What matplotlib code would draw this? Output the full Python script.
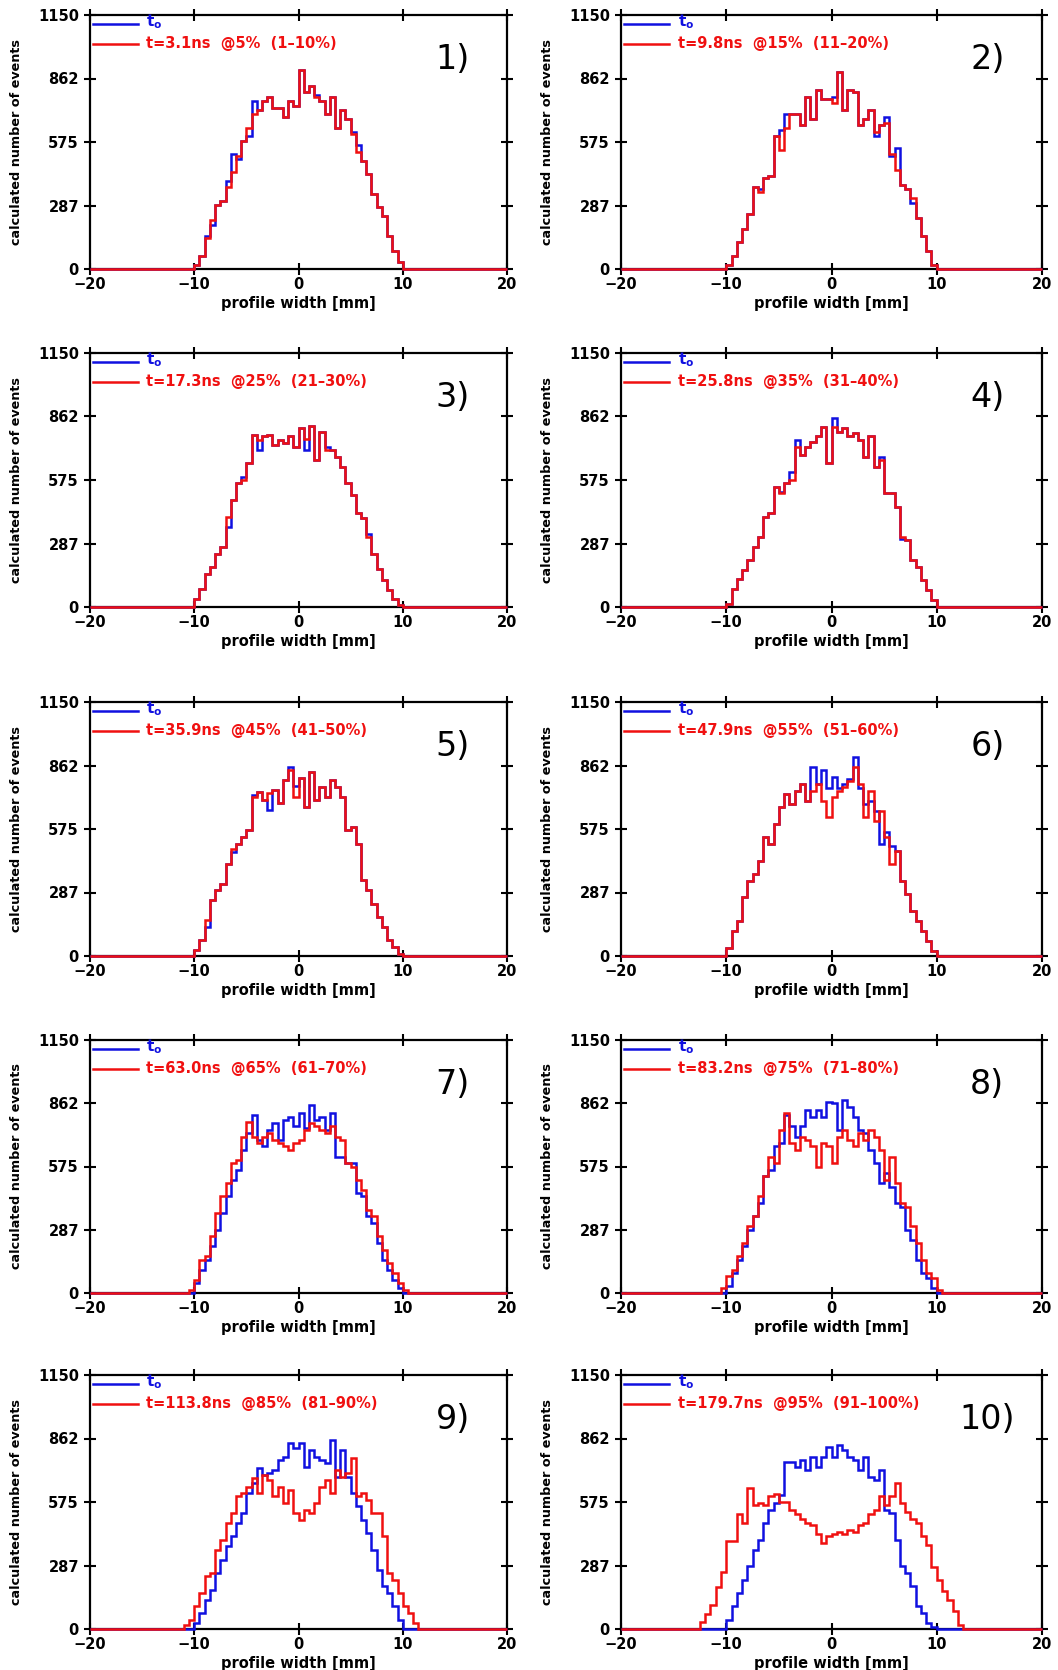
import numpy as np
import matplotlib
matplotlib.use("Agg")
import matplotlib.pyplot as plt

# histogram grid: 0.5 mm bins over the full axis range
EDGES = np.linspace(-20, 20, 81)

YTICKS = [0, 287.5, 575, 862.5, 1150]
YTICKLABELS = ["0", "287", "575", "862", "1150"]
XTICKS = [-20, -10, 0, 10, 20]

LABELS = [
    "t=3.1ns  @5%  (1–10%)",
    "t=9.8ns  @15%  (11–20%)",
    "t=17.3ns  @25%  (21–30%)",
    "t=25.8ns  @35%  (31–40%)",
    "t=35.9ns  @45%  (41–50%)",
    "t=47.9ns  @55%  (51–60%)",
    "t=63.0ns  @65%  (61–70%)",
    "t=83.2ns  @75%  (71–80%)",
    "t=113.8ns  @85%  (81–90%)",
    "t=179.7ns  @95%  (91–100%)",
]

# counts per 0.5 mm bin, centred on 0 (zeros outside are padded in code)
blue1 = [20, 60, 150, 200, 290, 310, 400, 520, 500, 580, 600, 760, 720, 760, 780, 730, 730, 690, 760, 740,
         900, 800, 830, 790, 760, 700, 780, 640, 720, 680, 620, 560, 490, 430, 340, 280, 240, 150, 80, 30]
red1 = [20, 60, 140, 220, 290, 310, 370, 440, 510, 580, 640, 700, 720, 760, 780, 730, 730, 690, 760, 740,
        900, 800, 830, 780, 760, 700, 780, 640, 720, 680, 610, 530, 490, 430, 340, 280, 240, 150, 80, 30]

blue2 = [20, 60, 120, 180, 250, 370, 360, 410, 420, 600, 630, 700, 700, 700, 650, 780, 680, 810, 770, 770,
         780, 890, 720, 810, 800, 650, 680, 720, 600, 650, 690, 510, 550, 380, 360, 300, 230, 150, 80, 20]
red2 = [20, 60, 120, 180, 250, 370, 350, 410, 420, 600, 540, 640, 700, 700, 650, 780, 680, 810, 770, 770,
        750, 890, 720, 810, 800, 650, 680, 720, 620, 650, 660, 520, 450, 380, 360, 320, 230, 150, 80, 20]

blue3 = [38, 83, 151, 182, 242, 272, 363, 484, 560, 590, 650, 780, 711, 772, 780, 734, 757, 742, 772, 726,
         810, 711, 820, 666, 794, 725, 711, 681, 636, 560, 507, 424, 401, 330, 242, 174, 121, 76, 38, 8]
red3 = [38, 83, 151, 182, 242, 272, 408, 484, 560, 575, 650, 780, 757, 772, 780, 734, 757, 742, 772, 726,
        810, 760, 820, 666, 794, 711, 711, 681, 636, 560, 507, 424, 401, 318, 242, 174, 121, 76, 38, 8]

blue4 = [15, 83, 129, 166, 212, 272, 318, 408, 424, 545, 520, 560, 610, 755, 688, 726, 749, 772, 814, 650,
         855, 794, 810, 772, 787, 757, 681, 772, 636, 680, 514, 514, 454, 310, 302, 212, 182, 121, 76, 30]
red4 = [15, 83, 129, 166, 212, 272, 318, 408, 424, 545, 514, 560, 575, 726, 688, 726, 749, 772, 814, 650,
        817, 794, 810, 772, 787, 757, 681, 772, 636, 666, 514, 514, 454, 318, 302, 212, 182, 121, 76, 30]

blue5 = [26, 71, 130, 253, 298, 328, 418, 470, 509, 540, 570, 730, 744, 706, 661, 751, 691, 797, 857, 770,
         804, 676, 834, 706, 767, 721, 797, 767, 721, 570, 585, 509, 343, 298, 237, 177, 132, 71, 41, 11]
red5 = [26, 71, 162, 253, 298, 328, 418, 486, 509, 540, 570, 721, 744, 706, 736, 751, 691, 797, 842, 721,
        804, 676, 834, 706, 767, 721, 797, 767, 721, 570, 585, 509, 343, 298, 237, 177, 132, 71, 41, 11]

blue6 = [38, 113, 159, 265, 340, 371, 431, 537, 507, 598, 673, 734, 688, 749, 779, 703, 855, 779, 840, 760,
         810, 760, 780, 800, 900, 760, 690, 700, 658, 507, 560, 500, 476, 340, 280, 204, 159, 113, 68, 23]
red6 = [38, 113, 159, 265, 340, 371, 431, 537, 507, 598, 673, 734, 688, 749, 779, 703, 749, 779, 700, 628,
        719, 749, 764, 794, 855, 779, 628, 749, 613, 658, 537, 416, 476, 340, 280, 204, 159, 113, 68, 23]

blue7 = [45, 106, 151, 212, 287, 363, 439, 514, 560, 651, 726, 809, 696, 666, 742, 772, 696, 787, 802, 757,
         817, 749, 855, 787, 802, 742, 817, 620, 620, 590, 590, 454, 439, 348, 318, 227, 151, 106, 61, 23]
red7 = [15, 61, 151, 166, 257, 363, 439, 499, 590, 605, 711, 779, 711, 681, 711, 726, 696, 681, 666, 651,
        681, 696, 742, 772, 757, 742, 726, 757, 711, 696, 590, 575, 514, 469, 378, 348, 257, 197, 136, 91,
        45, 15]

blue8 = [30, 91, 151, 212, 287, 348, 408, 530, 560, 666, 681, 809, 757, 711, 757, 832, 802, 832, 802, 870,
         862, 742, 878, 847, 802, 742, 726, 651, 590, 499, 545, 484, 408, 393, 287, 242, 151, 91, 68, 23]
red8 = [23, 76, 106, 166, 227, 303, 348, 439, 530, 620, 590, 742, 817, 681, 651, 711, 696, 666, 575, 681,
        666, 590, 711, 742, 696, 666, 726, 696, 742, 711, 651, 514, 620, 499, 408, 393, 303, 227, 151, 91,
        68, 15]

blue9 = [27, 72, 133, 178, 253, 313, 374, 419, 479, 524, 615, 660, 728, 698, 706, 720, 766, 781, 841, 818,
         841, 735, 811, 781, 766, 751, 856, 690, 811, 690, 615, 555, 494, 434, 359, 268, 193, 163, 102, 42]
red9 = [0, 20, 42, 102, 163, 238, 253, 359, 404, 479, 524, 600, 615, 645, 683, 615, 698, 675, 600, 645,
        570, 630, 524, 494, 540, 524, 570, 645, 675, 615, 720, 690, 706, 773, 600, 615, 585, 524, 524, 419,
        253, 223, 163, 102, 72, 27]

blue10 = [42, 102, 163, 223, 283, 359, 404, 479, 540, 570, 607, 758, 758, 735, 766, 720, 781, 735, 781, 826,
          781, 833, 811, 781, 766, 720, 781, 690, 675, 720, 540, 524, 404, 283, 253, 193, 102, 72, 27, 10]
red10 = [30, 70, 110, 190, 260, 400, 400, 520, 480, 640, 560, 570, 560, 600, 610, 575, 575, 540, 520, 500,
         480, 470, 430, 390, 420, 430, 440, 430, 450, 440, 470, 480, 520, 540, 600, 560, 600, 660, 570, 530,
         500, 480, 420, 380, 280, 220, 170, 130, 80, 20]

BLUE = [blue1, blue2, blue3, blue4, blue5, blue6, blue7, blue8, blue9, blue10]
RED = [red1, red2, red3, red4, red5, red6, red7, red8, red9, red10]


def full(vals):
    n = (80 - len(vals)) // 2
    return np.concatenate([np.zeros(n), np.asarray(vals, float), np.zeros(n)])


def main():
    plt.rcParams['font.family'] = ['DejaVu Sans']
    plt.rcParams['font.weight'] = 'bold'
    plt.rcParams['mathtext.default'] = 'bf'

    W, H = 1058, 1670
    fig = plt.figure(figsize=(W / 100, H / 100), dpi=100)

    # axes frames in pixels (left, width) per column, (top, bottom) per row
    cols = [(90, 417), (621, 421)]
    rows = [(15, 269), (353, 607), (702, 956), (1040, 1293), (1375, 1629)]

    for i in range(10):
        r, c = divmod(i, 2)
        left, width = cols[c]
        top, bottom = rows[r]
        ax = fig.add_axes([left / W, 1 - bottom / H, width / W, (bottom - top) / H])

        ax.stairs(full(BLUE[i]), EDGES, color='#1010e0', lw=1.8, zorder=3, clip_on=False)
        ax.stairs(full(RED[i]), EDGES, color='#f01010', lw=1.8, zorder=4, clip_on=False)

        ax.set_xlim(-20, 20)
        ax.set_ylim(0, 1150)
        ax.set_xticks(XTICKS)
        ax.set_yticks(YTICKS)
        ax.set_yticklabels(YTICKLABELS)
        ax.tick_params(direction='inout', length=9, width=1.5, top=True, right=True,
                       labelsize=10.5, colors='black')
        ax.tick_params(axis='x', pad=1.5)
        ax.tick_params(axis='y', pad=3.5)
        for s in ax.spines.values():
            s.set_linewidth(1.6)

        ax.set_xlabel('profile width [mm]', fontsize=10.5, fontweight='bold')
        ax.xaxis.set_label_coords(0.5, -0.105)
        ax.set_ylabel('calculated number of events', fontsize=9.2, fontweight='bold')
        ax.yaxis.set_label_coords(-0.16, 0.5)

        # legend drawn by hand
        ax.plot([0.007, 0.115], [0.965, 0.965], transform=ax.transAxes,
                color='#1010e0', lw=1.8, clip_on=False)
        ax.plot([0.007, 0.115], [0.886, 0.886], transform=ax.transAxes,
                color='#f01010', lw=1.8, clip_on=False)
        ax.text(0.135, 0.972, r'$\mathbf{t_o}$', transform=ax.transAxes,
                color='#1010e0', fontsize=11, va='center', ha='left')
        ax.text(0.135, 0.886, LABELS[i], transform=ax.transAxes,
                color='#f01010', fontsize=10.5, fontweight='bold', va='center', ha='left')

        ax.text(0.87, 0.825, f'{i + 1})', transform=ax.transAxes,
                fontsize=24, fontweight='normal', ha='center', va='center')

    fig.savefig('out.png', dpi=100)


if __name__ == '__main__':
    main()
